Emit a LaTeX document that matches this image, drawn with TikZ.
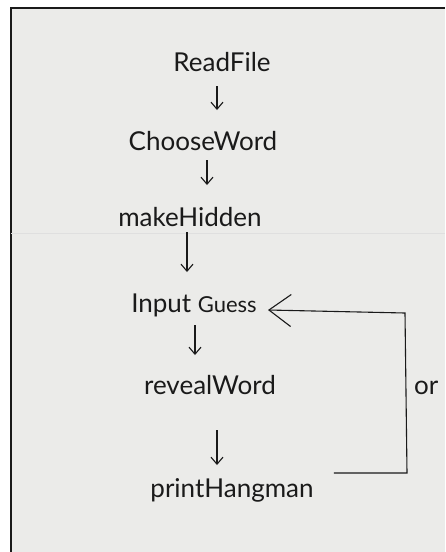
\documentclass[tikz,border=0pt]{standalone}
\usepackage{fontspec}
\setmainfont{Lato}
\usetikzlibrary{arrows.meta}
\definecolor{paper}{HTML}{EBEBE9}
\definecolor{ink}{HTML}{1A1A1A}
\tikzset{
  lbl/.style={font=\fontsize{26}{30}\selectfont, text=ink, inner sep=2pt},
  flow/.style={draw=ink, line width=1.1pt, -{Straight Barb[length=7pt,width=12pt]}},
  loopline/.style={draw=ink, line width=1.1pt, -{Straight Barb[length=22pt,width=32pt]}}
}
\begin{document}
\begin{tikzpicture}[x=1pt,y=-1pt]
\useasboundingbox (0,0) rectangle (445,552);
\fill[white] (0,0) rectangle (445,552);
\fill[paper] (11,8) rectangle (445,552);
\draw[ink, line width=1.6pt] (11,552) -- (11,8) -- (445,8);
\draw[gray!25, line width=0.6pt] (11,233) -- (445,233);
\node[lbl] (rf) at (222,62) {ReadFile};
\node[lbl] (cw) at (203,141) {ChooseWord};
\node[lbl] (mh) at (190,217) {makeHidden};
\node[lbl] (ig) at (194,305) {Input {\fontsize{22}{26}\selectfont Guess}};
\node[lbl] (rw) at (210,385) {revealWord};
\node[lbl] (ph) at (232,490) {printHangman};
\node[lbl, anchor=west] (or) at (412,388) {or};
\draw[flow] ([yshift=-24pt]rf.center -| 217,0) -- ([yshift=31pt]cw.center -| 217,0);
\draw[flow] ([yshift=-19pt]cw.center -| 207,0) -- ([yshift=32pt]mh.center -| 207,0);
\draw[flow] ([yshift=-15pt]mh.center -| 187,0) -- ([yshift=33pt]ig.center -| 187,0);
\draw[flow] ([yshift=-20pt]ig.center -| 195,0) -- ([yshift=30pt]rw.center -| 195,0);
\draw[flow] ([yshift=-45pt]rw.center -| 217,0) -- ([yshift=25pt]ph.center -| 217,0);
\coordinate (c1) at (407,473);
\coordinate (c2) at (405,313);
\coordinate (tip) at (268,310);
\draw[loopline] ([xshift=18pt]ph.east |- 0,473) -- (c1) -- (c2) -- (tip);
\end{tikzpicture}
\end{document}
